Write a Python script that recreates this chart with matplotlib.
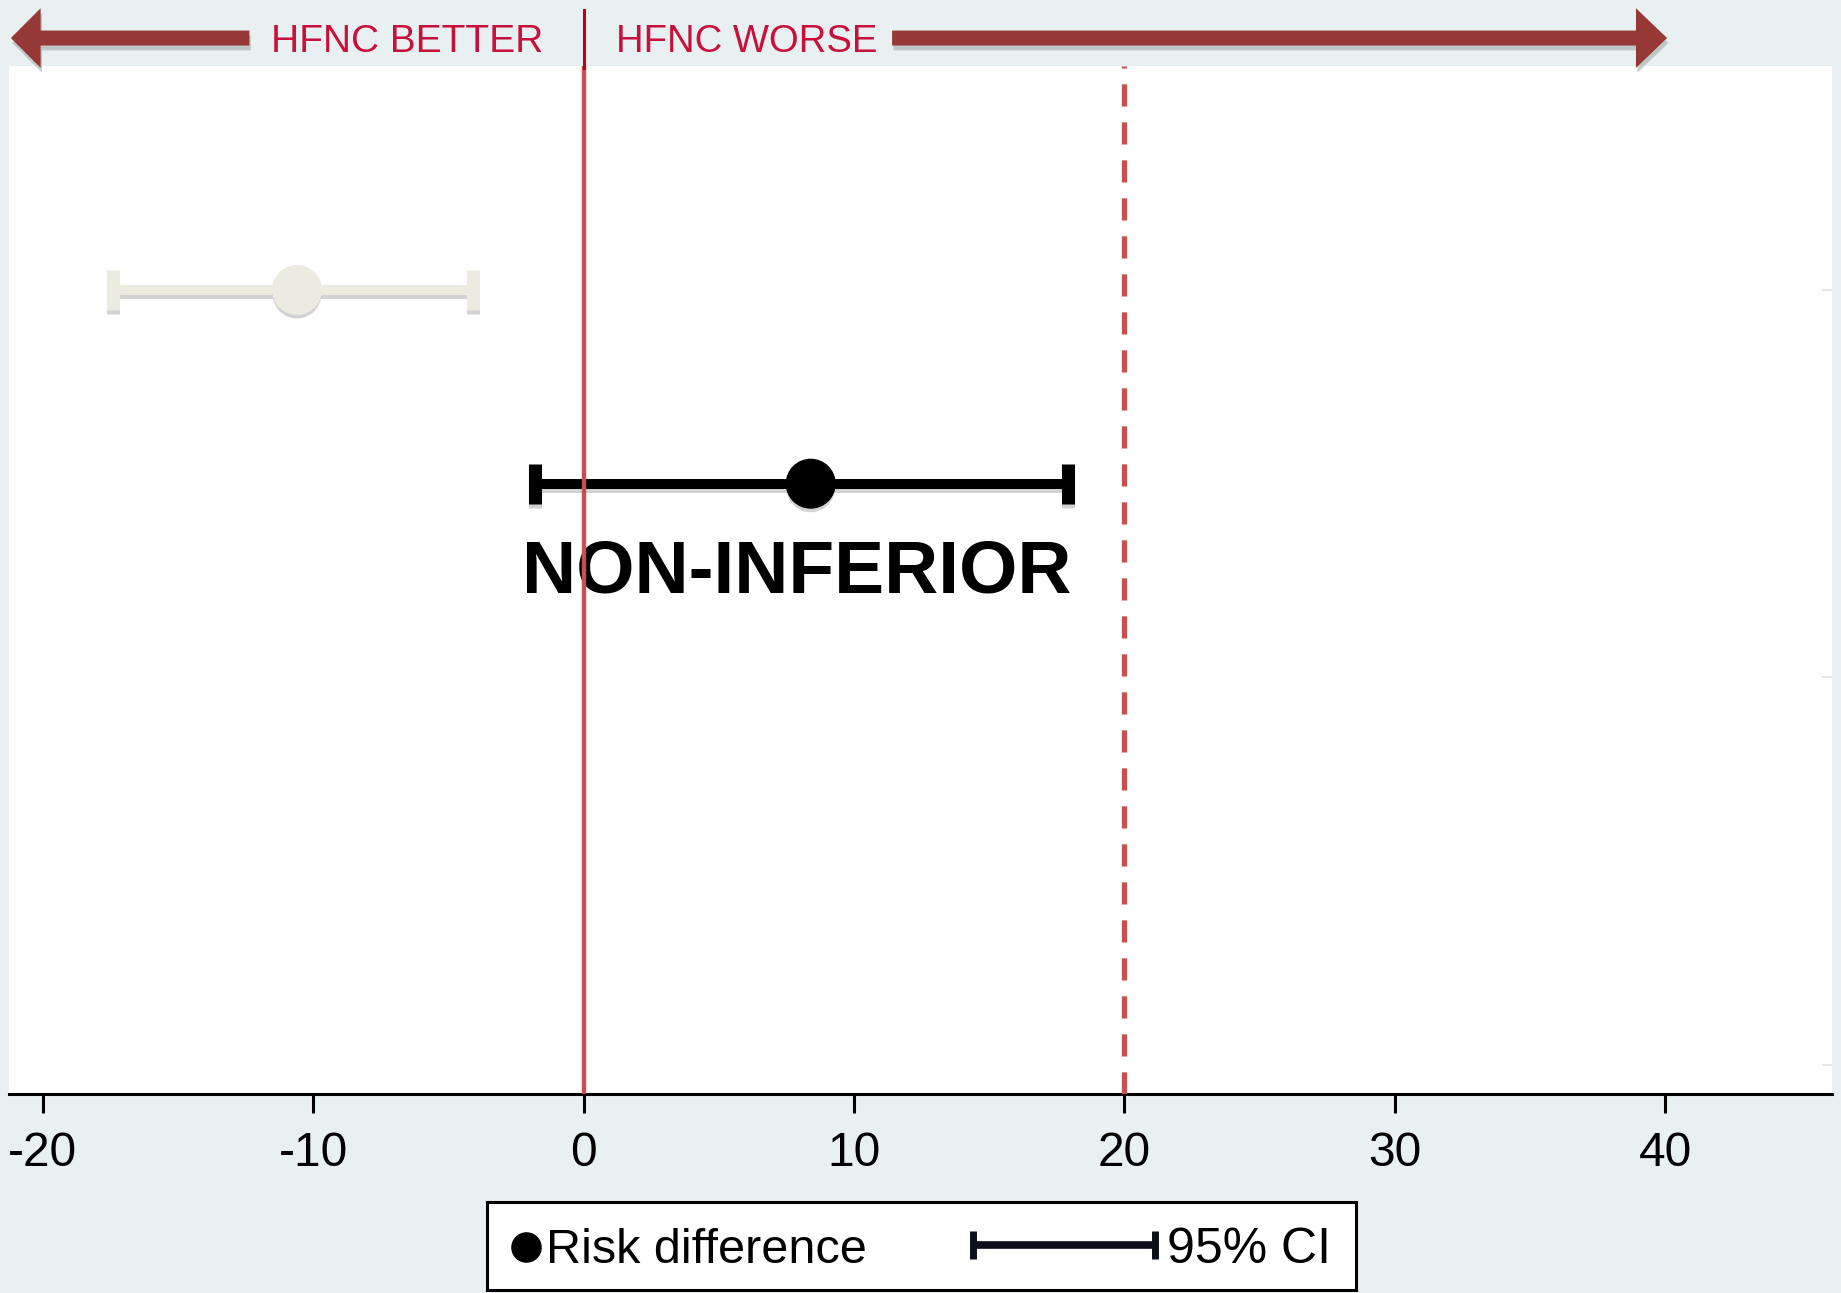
import matplotlib
matplotlib.use("Agg")
import matplotlib.pyplot as plt
import matplotlib.patheffects as pe
import matplotlib.transforms as mtransforms
from matplotlib.patches import FancyArrow

plt.rcParams["font.family"] = ["Liberation Sans", "DejaVu Sans"]

# Risk difference (percentage points) with 95% CI, one row per estimate
row_pos = [2.0, 1.5]
risk_diff = [-10.6, 8.4]
ci_low = [-17.4, -1.8]
ci_high = [-4.1, 17.9]
ni_margin = 20
x_ticks = [-20, -10, 0, 10, 20, 30, 40]
x_tick_labels = ["-20", "-10", "0", "10", "20", "30", "40"]

# styling
BG = "#e8f0f2"
ARROW_RED = "#963936"
LABEL_RED = "#c8103c"
REF_RED = "#c5504f"
row_colors = ["#ecebe0", "black"]

W, H = 1841, 1293
fig = plt.figure(figsize=(W / 100, H / 100), dpi=100, facecolor=BG)
ax = fig.add_axes([9 / W, 199 / H, 1823 / W, 1028 / H])
ax.set_facecolor("white")
ax.set_xlim(-21.25, 46.17)
ax.set_ylim(-0.075, 2.578)

for s in ("left", "top", "right"):
    ax.spines[s].set_visible(False)
ax.spines["bottom"].set_linewidth(2.2)

ax.set_xticks(x_ticks)
ax.set_xticklabels(x_tick_labels, fontsize=34.5)
ax.tick_params(axis="x", length=14, width=2.2, pad=13, colors="black")
ax.yaxis.tick_right()
ax.set_yticks([0, 1, 2])
ax.tick_params(axis="y", length=7, width=1.5, colors="#e2e8ea", labelright=False, direction="in")

# reference line at zero and non-inferiority margin
ax.axvline(0, color=REF_RED, lw=3.2, zorder=5)
ax.axvline(ni_margin, color=REF_RED, lw=3.8, dashes=(4.2, 3.0), zorder=5)

line_shadow = [pe.SimpleLineShadow(offset=(0, -3), shadow_color="gray", alpha=0.35), pe.Normal()]
dot_shadow = [pe.SimplePatchShadow(offset=(0, -3), shadow_rgbFace="gray", alpha=0.35), pe.Normal()]

for y, rd, lo, hi, col in zip(row_pos, risk_diff, ci_low, ci_high, row_colors):
    dot, caps, bars = ax.errorbar(rd, y, xerr=[[rd - lo], [hi - rd]], fmt="o", color=col,
                                  ms=35, elinewidth=7.2, capsize=14.5, capthick=9.4, zorder=3)
    dot.set_path_effects(dot_shadow)
    for c in caps:
        c.set_path_effects(line_shadow)
    for b in bars:
        b.set_path_effects(line_shadow)

ax.text(7.9, 1.218, "NON-INFERIOR", fontsize=54, fontweight="bold",
        ha="center", va="baseline", zorder=4)

# direction arrows above the plot
trans = mtransforms.blended_transform_factory(ax.transData, ax.transAxes)
arrow_y = 1.0272
arrow_shadow = [pe.SimplePatchShadow(offset=(1, -3.5), shadow_rgbFace="#8d9496", alpha=0.45), pe.Normal()]
left_arrow = FancyArrow(-12.36, arrow_y, -8.82, 0, width=0.0146, head_width=0.058, head_length=1.1,
                        length_includes_head=True, transform=trans, clip_on=False,
                        color=ARROW_RED, lw=0)
right_arrow = FancyArrow(11.41, arrow_y, 28.66, 0, width=0.0146, head_width=0.058, head_length=1.15,
                         length_includes_head=True, transform=trans, clip_on=False,
                         color=ARROW_RED, lw=0)
for a in (left_arrow, right_arrow):
    a.set_path_effects(arrow_shadow)
    ax.add_patch(a)

ax.text(-11.55, 1.0136, "HFNC BETTER", transform=trans, fontsize=28, color=LABEL_RED,
        ha="left", va="baseline")
ax.text(1.2, 1.0136, "HFNC WORSE", transform=trans, fontsize=27.5, color=LABEL_RED,
        ha="left", va="baseline")
ax.axvline(0, ymin=0.998, ymax=1.0545, color="#c00018", lw=2.2, clip_on=False, zorder=5)

# legend box
lax = fig.add_axes([487 / W, 3 / H, 869 / W, 88 / H])
lax.set_xlim(0, 869)
lax.set_ylim(0, 88)
lax.set_xticks([])
lax.set_yticks([])
lax.set_facecolor("white")
for s in lax.spines.values():
    s.set_linewidth(2.2)
lax.plot([38.7], [43], "o", color="black", ms=21)
lax.text(59, 27, "Risk difference", fontsize=35, va="baseline", ha="left")
lax.plot([486, 668], [45, 45], color="#0a0f1a", lw=5.5, solid_capstyle="butt")
lax.plot([486, 668], [45, 45], ls="none", marker="|", ms=20, mew=5, color="#0a0f1a")
lax.text(680, 27, "95% CI", fontsize=36, va="baseline", ha="left")

fig.savefig("out.png", dpi=100, facecolor=BG)
